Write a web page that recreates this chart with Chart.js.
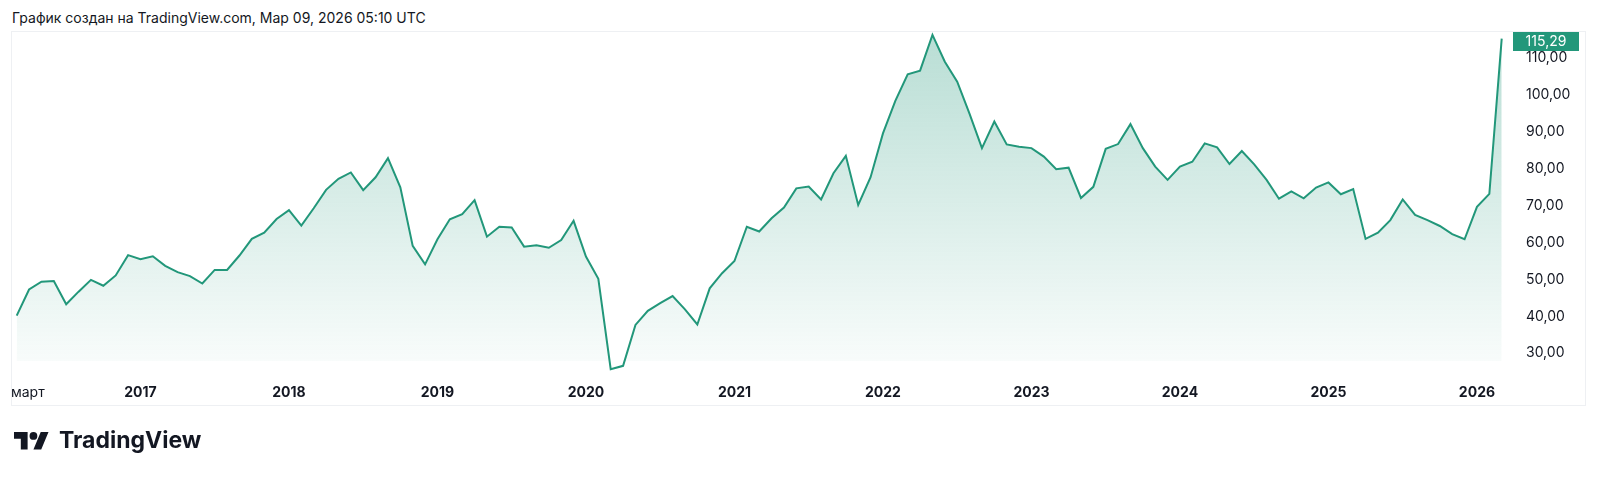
<!DOCTYPE html>
<html>
<head>
<meta charset="utf-8">
<script src="https://cdn.jsdelivr.net/npm/chart.js@4/dist/chart.umd.min.js"></script>
<style>
  html, body { margin: 0; padding: 0; background: #ffffff; }
  body { width: 1600px; height: 477px; position: relative; overflow: hidden; font-family: Inter, "Noto Sans", sans-serif; }
  #title { position: absolute; left: 12px; top: 11px; font-size: 14px; line-height: 14px; color: #131722; white-space: nowrap; }
  #panel { position: absolute; left: 11px; top: 31px; width: 1575px; height: 375px; border: 1px solid #eef0f3; box-sizing: border-box; }
  #c { position: absolute; left: 0; top: 0; }
  #logo { position: absolute; left: 14px; top: 432px; }
  #logotext { position: absolute; left: 59px; top: 429px; font-size: 23px; line-height: 23px; font-weight: 700; color: #131722; white-space: nowrap; }
</style>
</head>
<body>
<div id="title">График создан на TradingView.com, Мар 09, 2026 05:10 UTC</div>
<div id="panel"></div>
<canvas id="c" width="1600" height="477"></canvas>
<svg id="logo" width="35" height="17.5" viewBox="0 4 36 18"><path fill="#131722" d="M14 22H7V11H0V4h14v18zM28 22h-8l7.5-18h8L28 22z"/><circle fill="#131722" cx="20" cy="8" r="4"/></svg>
<div id="logotext">TradingView</div>
<script>
// ---- DATA (monthly closes, March 2016 – March 2026) ----
const startMonth = '2016-03';
const values2016 = [40.2, 47.3, 49.4, 49.6, 43.3, 46.7, 49.9, 48.3, 51.1, 56.6];
const values2017 = [55.5, 56.3, 53.7, 52.0, 50.9, 48.9, 52.6, 52.6, 56.5, 61.0, 62.7, 66.4];
const values2018 = [68.8, 64.6, 69.3, 74.3, 77.3, 79.0, 74.2, 77.7, 82.9, 75.0, 59.1, 54.1];
const values2019 = [60.9, 66.3, 67.7, 71.5, 61.6, 64.3, 64.1, 58.9, 59.3, 58.6, 60.7, 65.9];
const values2020 = [56.2, 50.2, 25.7, 26.6, 37.7, 41.5, 43.6, 45.5, 41.9, 37.8, 47.6, 51.7];
const values2021 = [55.0, 64.3, 63.0, 66.6, 69.5, 74.7, 75.2, 71.7, 78.8, 83.5, 70.2, 77.7];
const values2022 = [89.6, 98.4, 105.6, 106.6, 116.3, 109.0, 103.6, 94.9, 85.6, 92.8, 86.6, 86.0];
const values2023 = [85.6, 83.3, 79.9, 80.3, 72.1, 75.1, 85.4, 86.7, 92.1, 85.6, 80.6, 77.0];
const values2024 = [80.6, 81.9, 86.9, 85.8, 81.3, 84.8, 81.2, 77.0, 71.9, 73.9, 72.0, 74.9];
const values2025 = [76.3, 73.1, 74.5, 61.0, 62.7, 66.1, 71.7, 67.5, 66.1, 64.5, 62.3, 60.9];
const values2026 = [69.7, 73.2, 115.29];

const xTickLabels = ['март', '2017', '2018', '2019', '2020', '2021', '2022', '2023', '2024', '2025', '2026'];
const xTickMonths = ['2016-03', '2017-01', '2018-01', '2019-01', '2020-01', '2021-01', '2022-01', '2023-01', '2024-01', '2025-01', '2026-01'];
const yTickValues = [30, 40, 50, 60, 70, 80, 90, 100, 110];

// ---- build ----
const values = [].concat(values2016, values2017, values2018, values2019, values2020, values2021,
  values2022, values2023, values2024, values2025, values2026);
function monthIndex(m) {
  const [y0, m0] = startMonth.split('-').map(Number);
  const [y1, m1] = m.split('-').map(Number);
  return (y1 - y0) * 12 + (m1 - m0);
}
const points = values.map((v, i) => ({ x: i, y: v }));
const xTickValues = xTickMonths.map((m, i) => monthIndex(m) + (i === 0 ? 0.9 : 0));

const LINE = '#22977a';
const FONT = 'Inter, "Noto Sans", sans-serif';

const priceLabel = {
  id: 'priceLabel',
  afterDatasetsDraw(chart) {
    const ys = chart.scales.y;
    const ca = chart.chartArea;
    const last = values[values.length - 1];
    const py = ys.getPixelForValue(last);
    const h = 19;
    let top = py - h / 2;
    if (top < ca.top + 1) top = ca.top + 1;
    const ctx = chart.ctx;
    ctx.save();
    ctx.fillStyle = LINE;
    ctx.fillRect(ca.right + 3, top, 66, h);
    ctx.fillStyle = '#ffffff';
    ctx.font = '14px ' + FONT;
    ctx.textAlign = 'center';
    ctx.textBaseline = 'middle';
    ctx.fillText(last.toFixed(2).replace('.', ','), ca.right + 3 + 33, top + h / 2 + 0.5);
    ctx.restore();
  }
};

new Chart(document.getElementById('c'), {
  type: 'line',
  data: {
    datasets: [{
      data: points,
      borderColor: LINE,
      borderWidth: 2,
      pointRadius: 0,
      tension: 0,
      clip: false,
      fill: 'start',
      backgroundColor(context) {
        const ca = context.chart.chartArea;
        if (!ca) return 'rgba(34,151,122,0.1)';
        const g = context.chart.ctx.createLinearGradient(0, ca.top, 0, ca.bottom);
        g.addColorStop(0, 'rgba(34,151,122,0.32)');
        g.addColorStop(1, 'rgba(34,151,122,0.03)');
        return g;
      }
    }]
  },
  options: {
    responsive: false,
    devicePixelRatio: 1,
    animation: false,
    layout: { padding: { left: 12, top: 31, right: 13, bottom: 70 } },
    plugins: { legend: { display: false }, tooltip: { enabled: false }, title: { display: false } },
    scales: {
      x: {
        type: 'linear',
        min: -0.38,
        max: 120.67,
        grid: { display: false, drawTicks: false },
        border: { display: false },
        afterBuildTicks(scale) { scale.ticks = xTickValues.map(v => ({ value: v })); },
        afterFit(scale) { scale.height = 46; scale.paddingLeft = 0; scale.paddingRight = 0; },
        ticks: {
          autoSkip: false,
          maxRotation: 0,
          minRotation: 0,
          padding: 23,
          color: '#131722',
          font(ctx) {
            return { family: FONT, size: 14, weight: ctx.index === 0 ? 'normal' : 'bold' };
          },
          callback(value, index) { return xTickLabels[index]; }
        }
      },
      y: {
        position: 'right',
        min: 27.91,
        max: 117.34,
        grid: { display: false, drawTicks: false },
        border: { display: false },
        afterBuildTicks(scale) { scale.ticks = yTickValues.map(v => ({ value: v })); },
        afterFit(scale) { scale.width = 77; scale.paddingTop = 0; scale.paddingBottom = 0; },
        ticks: {
          padding: 16,
          color: '#131722',
          font: { family: FONT, size: 14 },
          callback(value) { return Number(value).toFixed(2).replace('.', ','); }
        }
      }
    }
  },
  plugins: [priceLabel]
});
</script>
</body>
</html>
